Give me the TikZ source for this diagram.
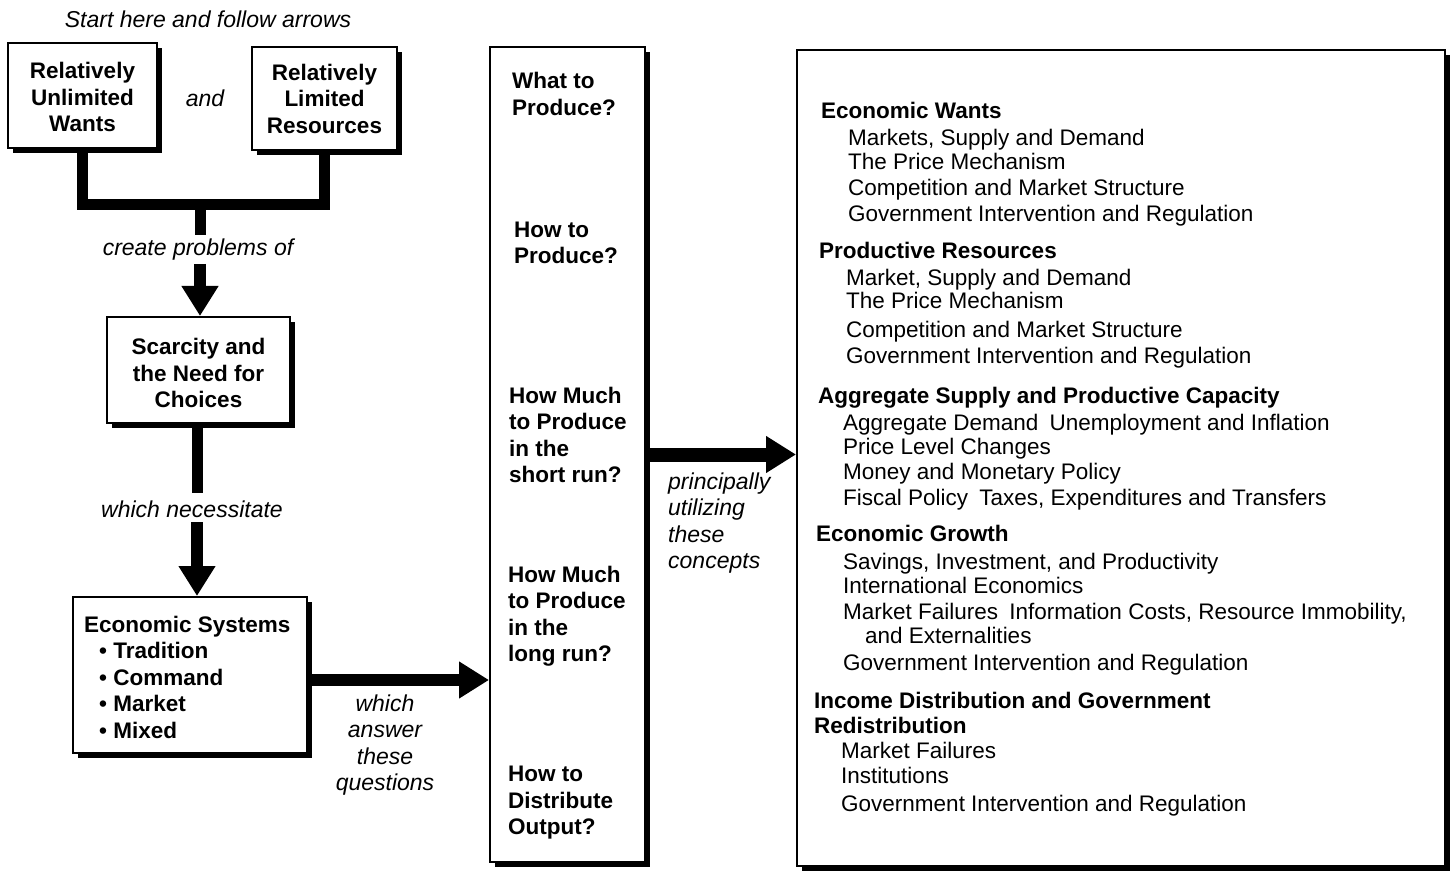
\documentclass[tikz,border=0pt]{standalone}
\usepackage{fontspec}
\setmainfont{Liberation Sans}
\usetikzlibrary{arrows.meta,shadows}
\begin{document}
\begin{tikzpicture}[x=1pt,y=-1pt,
  box/.style={draw=black, line width=2pt, fill=white, inner sep=0pt,
    drop shadow={shadow xshift=5pt, shadow yshift=-5pt, fill=black, opacity=1}},
  boxtext/.style={font=\fontsize{22.5}{26.5}\selectfont\bfseries, align=center},
  lbl/.style={font=\fontsize{23}{26.3}\selectfont\itshape, inner sep=0pt},
  one/.style={text height=19pt, text depth=2pt},
  qtext/.style={font=\fontsize{22.5}{26.5}\selectfont\bfseries, align=left, anchor=west, inner sep=0pt},
  hd/.style={font=\fontsize{22.5}{25.8}\selectfont\bfseries, anchor=west, inner sep=0pt, one},
  itm/.style={font=\fontsize{22.5}{25.8}\selectfont, anchor=west, inner sep=0pt, one},
  bar/.style={line width=11pt, line join=miter},
  bigarrow/.style={line width=12pt, -{Triangle[width=35pt,length=30pt]}}
]
\useasboundingbox (0,0) rectangle (1453,874);
\fill[white] (0,0) rectangle (1453,874);

% boxes
\node[box, boxtext, minimum width=149pt, minimum height=105pt] (uw) at (82.5,95.5) {\rule{0pt}{20pt}Relatively\\Unlimited\\Wants};
\node[box, boxtext, minimum width=145pt, minimum height=103pt] (lr) at (324.5,98.5) {Relatively\\Limited\\Resources};
\node[box, boxtext, minimum width=183pt, minimum height=106pt] (sc) at (198.5,370) {\rule{0pt}{23pt}Scarcity and\\the Need for\\Choices};
\node[box, minimum width=234pt, minimum height=156pt] (es) at (190,675) {};
\node[qtext] (est) at (84,677) {Economic Systems\\\hspace*{15pt}\textbullet\ Tradition\\\hspace*{15pt}\textbullet\ Command\\\hspace*{15pt}\textbullet\ Market\\\hspace*{15pt}\textbullet\ Mixed};
\node[box, minimum width=155pt, minimum height=815pt] (qs) at (567.5,454.5) {};
\node[box, minimum width=648pt, minimum height=816pt] (rb) at (1121,458) {};

% questions
\node[qtext] (q1) at (512,94) {What to\\Produce?};
\node[qtext] (q2) at (514,243) {How to\\Produce?};
\node[qtext] (q3) at (509,435) {How Much\\to Produce\\in the\\short run?};
\node[qtext] (q4) at (508,616) {How Much\\to Produce\\in the\\long run?};
\node[qtext] (q5) at (508,803) {How to\\Distribute\\Output?};

% labels
\node[lbl] (start) at (208,19) {Start here and follow arrows};
\node[lbl, one] (andl) at (205,98) {and};
\node[lbl, one] (cp) at (198,247) {create problems of};
\node[lbl, one] (wn) at (192,509) {which necessitate};
\node[lbl, align=center] (waq) at (385,745) {which\\answer\\these\\questions};
\node[lbl, align=left, anchor=west] (puc) at (668,523) {principally\\utilizing\\these\\concepts};

% concepts
\node[hd] (h1) at (821,110) {Economic Wants};
\node[itm] (h1a) at (848,137) {Markets, Supply and Demand};
\node[itm] (h1b) at (848,161) {The Price Mechanism};
\node[itm] (h1c) at (848,187) {Competition and Market Structure};
\node[itm] (h1d) at (848,213) {Government Intervention and Regulation};
\node[hd] (h2) at (819,250) {Productive Resources};
\node[itm] (h2a) at (846,277) {Market, Supply and Demand};
\node[itm] (h2b) at (846,300) {The Price Mechanism};
\node[itm] (h2c) at (846,329) {Competition and Market Structure};
\node[itm] (h2d) at (846,355) {Government Intervention and Regulation};
\node[hd] (h3) at (818,395) {Aggregate Supply and Productive Capacity};
\node[itm] (h3a) at (843,422) {Aggregate Demand\enspace Unemployment and Inflation};
\node[itm] (h3b) at (843,446) {Price Level Changes};
\node[itm] (h3c) at (843,471) {Money and Monetary Policy};
\node[itm] (h3d) at (843,497) {Fiscal Policy\enspace Taxes, Expenditures and Transfers};
\node[hd] (h4) at (816,533) {Economic Growth};
\node[itm] (h4a) at (843,561) {Savings, Investment, and Productivity};
\node[itm] (h4b) at (843,585) {International Economics};
\node[itm] (h4c) at (843,611) {Market Failures\enspace Information Costs, Resource Immobility,};
\node[itm] (h4d) at (865,635) {and Externalities};
\node[itm] (h4e) at (843,662) {Government Intervention and Regulation};
\node[hd] (h5) at (814,700) {Income Distribution and Government};
\node[hd] (h5x) at (814,725) {Redistribution};
\node[itm] (h5a) at (841,750) {Market Failures};
\node[itm] (h5b) at (841,775) {Institutions};
\node[itm] (h5c) at (841,803) {Government Intervention and Regulation};

% connectors
\coordinate (j) at (200,205);
\coordinate (c1) at (200,235);
\coordinate (c2) at (200,264);
\coordinate (c3) at (197,493);
\coordinate (c4) at (197,522);
\draw[bar] (uw.south) |- (j) -| (lr.south);
\draw[bar] (j) -- (c1);
\draw[bigarrow] (c2) -- (sc.north -| c2);
\draw[bar] (sc.south -| c3) -- (c3);
\draw[bigarrow] (c4) -- (es.north -| c4);
\draw[bigarrow] ([yshift=-5pt]es.east) -- ([yshift=-5pt]es.east -| qs.west);
\draw[bigarrow, line width=14pt] (qs.east) -- (qs.east -| rb.west);
\end{tikzpicture}
\end{document}
